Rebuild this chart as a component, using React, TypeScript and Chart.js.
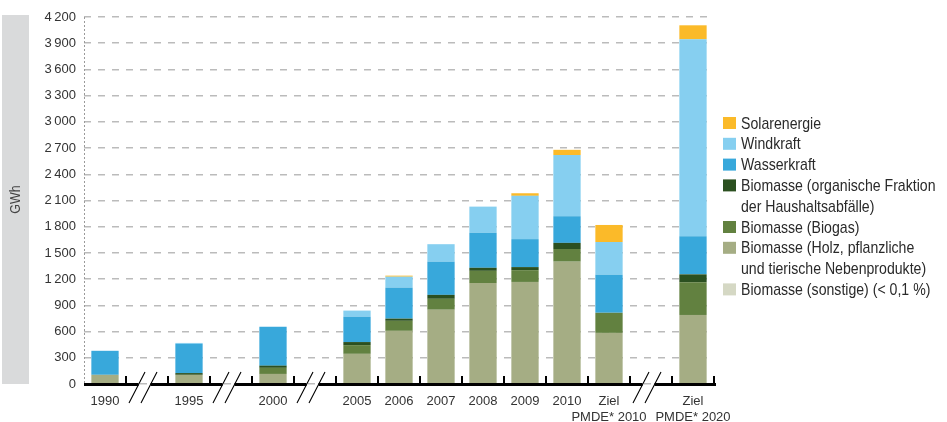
import React, { useEffect, useRef } from 'react';
import { Chart, registerables } from 'chart.js';

Chart.register(...registerables);

// ---- data ----
const categories: (string | string[])[] = [
  '1990', '', '1995', '', '2000', '', '2005', '2006', '2007', '2008', '2009', '2010',
  ['Ziel', 'PMDE* 2010'], '', ['Ziel', 'PMDE* 2020'],
];
const sonstige = [0, null, 0, null, 0, null, 0, 8, 10, 10, 8, 0, 0, null, 0];
const holz = [105, null, 105, null, 115, null, 345, 600, 840, 1145, 1160, 1400, 585, null, 790];
const biogas = [0, null, 0, null, 70, null, 100, 115, 125, 140, 135, 145, 230, null, 375];
const organisch = [0, null, 20, null, 25, null, 35, 25, 45, 35, 35, 70, 0, null, 90];
const wasser = [275, null, 335, null, 445, null, 290, 355, 380, 400, 320, 305, 435, null, 435];
const wind = [0, null, 10, null, 0, null, 70, 125, 200, 300, 495, 700, 375, null, 2255];
const solar = [0, null, 0, null, 0, null, 0, 12, 0, 0, 30, 60, 195, null, 160];

const yMin = 0;
const yMax = 4200;
const yStep = 300;

const seriesLabels = [
  'Biomasse (sonstige) (< 0,1 %)',
  'Biomasse (Holz, pflanzliche und tierische Nebenprodukte)',
  'Biomasse (Biogas)',
  'Biomasse (organische Fraktion der Haushaltsabfälle)',
  'Wasserkraft',
  'Windkraft',
  'Solarenergie',
];
const seriesData = [sonstige, holz, biogas, organisch, wasser, wind, solar];
const seriesColors = ['#D5D8C4', '#A5AD84', '#628140', '#2B5020', '#38A8DB', '#86CFF0', '#FBBA29'];

// legend lines (top to bottom), with series index for swatch
const legendLines: { text: string; series: number | null }[] = [
  { text: 'Solarenergie', series: 6 },
  { text: 'Windkraft', series: 5 },
  { text: 'Wasserkraft', series: 4 },
  { text: 'Biomasse (organische Fraktion', series: 3 },
  { text: 'der Haushaltsabfälle)', series: null },
  { text: 'Biomasse (Biogas)', series: 2 },
  { text: 'Biomasse (Holz, pflanzliche', series: 1 },
  { text: 'und tierische Nebenprodukte)', series: null },
  { text: 'Biomasse (sonstige) (< 0,1 %)', series: 0 },
];

const FONT = "'Liberation Sans', Arial, sans-serif";
const TEXT = '#333333';
const CONDENSE = 0.83;

function fmt(v: number): string {
  if (v >= 1000) {
    const th = Math.floor(v / 1000);
    const rest = String(v % 1000).padStart(3, '0');
    return `${th}\u2009${rest}`;
  }
  return String(v);
}

const decorPlugin = {
  id: 'decor',
  beforeDraw(chart: any) {
    const { ctx, chartArea } = chart;
    ctx.save();
    // y-title box
    ctx.fillStyle = '#D9DADB';
    ctx.fillRect(2, 15, 27, chartArea.bottom - 15);
    ctx.translate(16, (15 + chartArea.bottom) / 2);
    ctx.rotate(-Math.PI / 2);
    ctx.scale(CONDENSE, 1);
    ctx.fillStyle = '#444';
    ctx.font = `15px ${FONT}`;
    ctx.textAlign = 'center';
    ctx.textBaseline = 'middle';
    ctx.fillText('GWh', 0, 0);
    ctx.restore();
  },
  beforeDatasetsDraw(chart: any) {
    const { ctx, chartArea } = chart;
    ctx.save();
    ctx.strokeStyle = '#9a9a9a';
    ctx.lineWidth = 1;
    ctx.setLineDash([2, 2]);
    ctx.beginPath();
    ctx.moveTo(chartArea.left + 0.5, chartArea.top);
    ctx.lineTo(chartArea.left + 0.5, chartArea.bottom);
    ctx.stroke();
    ctx.restore();
  },
  afterDatasetsDraw(chart: any) {
    const { ctx, chartArea } = chart;
    const xs = chart.scales.x;
    const n = categories.length;
    const step = (chartArea.right - chartArea.left) / n;
    const bottom = chartArea.bottom;
    ctx.save();
    ctx.fillStyle = '#000';
    // baseline segments with breaks
    const gapCenters: number[] = [];
    categories.forEach((c, i) => {
      if (c === '') gapCenters.push(xs.getPixelForValue(i) - 2);
    });
    let start = chartArea.left;
    const end = chartArea.right + 2;
    gapCenters.forEach((cx) => {
      ctx.fillRect(start, bottom - 1, cx - 6.5 - start, 3);
      start = cx + 5.5;
    });
    ctx.fillRect(start, bottom - 1, end - start, 3);
    // ticks at category boundaries
    for (let i = 1; i <= n; i++) {
      const bx = Math.round(chartArea.left + i * step);
      ctx.fillRect(bx - 1, bottom - 8, 2, 8);
    }
    // break slashes
    ctx.strokeStyle = '#000';
    ctx.lineWidth = 1.1;
    gapCenters.forEach((cx) => {
      ctx.beginPath();
      ctx.moveTo(cx - 16, bottom + 19);
      ctx.lineTo(cx, bottom - 12);
      ctx.moveTo(cx - 4, bottom + 19);
      ctx.lineTo(cx + 12, bottom - 12);
      ctx.stroke();
    });
    ctx.restore();
  },
  afterDraw(chart: any) {
    const { ctx, chartArea } = chart;
    ctx.save();
    const sx = chartArea.right + 9;
    const y0 = 123;
    const dy = 20.8;
    ctx.font = `17px ${FONT}`;
    ctx.textBaseline = 'middle';
    ctx.textAlign = 'left';
    legendLines.forEach((ln, i) => {
      const cy = y0 + i * dy;
      if (ln.series !== null) {
        ctx.fillStyle = seriesColors[ln.series];
        ctx.fillRect(sx, cy - 6, 13, 12);
      }
      ctx.save();
      ctx.translate(sx + 18, cy + 1);
      ctx.scale(CONDENSE, 1);
      ctx.fillStyle = '#2a2a2a';
      ctx.fillText(ln.text, 0, 0);
      ctx.restore();
    });
    ctx.restore();
  },
};

export default function App() {
  const ref = useRef<HTMLCanvasElement | null>(null);
  useEffect(() => {
    if (!ref.current) return;
    const chart = new Chart(ref.current, {
      type: 'bar',
      data: {
        labels: categories as any,
        datasets: seriesData.map((d, i) => ({
          label: seriesLabels[i],
          data: d as any,
          backgroundColor: seriesColors[i],
          borderWidth: 0,
          categoryPercentage: 0.65,
          barPercentage: 1,
        })),
      },
      options: {
        animation: false,
        responsive: true,
        maintainAspectRatio: false,
        layout: { padding: { left: 0, right: 233, top: 17, bottom: 0 } },
        plugins: {
          legend: { display: false },
          tooltip: { enabled: false },
        },
        scales: {
          x: {
            stacked: true,
            grid: { display: false, drawTicks: false },
            border: { display: false },
            ticks: {
              autoSkip: false,
              maxRotation: 0,
              padding: 9,
              color: TEXT,
              font: { family: FONT, size: 13, lineHeight: 1.25 },
            },
            afterFit: (s: any) => { s.height = 38; },
          },
          y: {
            stacked: true,
            min: yMin,
            max: yMax,
            grid: { color: '#BBBBBB', lineWidth: 1.5, drawTicks: false },
            border: { display: false, dash: [7, 7] },
            ticks: {
              stepSize: yStep,
              padding: 8,
              color: TEXT,
              font: { family: FONT, size: 13 },
              callback: (v: any) => fmt(Number(v)),
            },
            afterFit: (s: any) => { s.width = 84; },
          },
        },
      },
      plugins: [decorPlugin],
    });
    return () => chart.destroy();
  }, []);
  return (
    <div style={{ position: 'fixed', left: 0, top: 0, width: 947, height: 422, background: '#fff' }}>
      <canvas ref={ref} />
    </div>
  );
}
